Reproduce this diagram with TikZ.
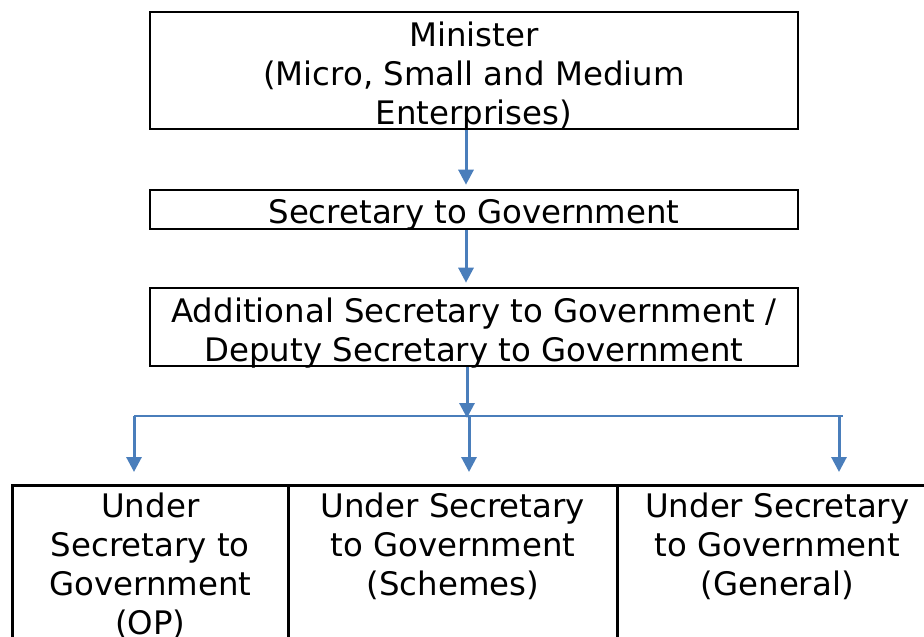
\documentclass[tikz,border=0pt]{standalone}
\usepackage{fontspec}
\setmainfont{DejaVu Sans}
\usetikzlibrary{positioning,calc,arrows.meta}

\tikzset{>={Triangle[length=15pt,width=15pt]}}
\definecolor{linkblue}{HTML}{4A7EBB}
\tikzstyle{post}=[draw=black,line width=2.6pt,inner sep=0pt]
\tikzstyle{label}=[align=center,inner sep=0pt,font=\fontsize{32.4}{39}\selectfont]
\tikzstyle{link}=[->,draw=linkblue,line width=3pt,shorten >=4pt]
\tikzstyle{bar}=[draw=linkblue,line width=2pt]

\begin{document}
\begin{tikzpicture}[x=1pt,y=-1pt]
  \useasboundingbox (0,0) rectangle (924,637);

  % top of the chain
  \node[post,minimum width=648pt,minimum height=117pt] (minister) at (474,70.5) {};
  \node[post,minimum width=648pt,minimum height=39pt] (secy) at (474,209.5) {};
  \node[post,minimum width=648pt,minimum height=78pt] (addl) at (474,327) {};
  \node[label] (ministertxt) at ([yshift=-6pt]minister.center)
    {Minister\\(Micro, Small and Medium\\Enterprises)};
  \node[label] (secytxt) at ([yshift=-5pt]secy.center) {Secretary to Government};
  \node[label] (addltxt) at ([yshift=-6pt]addl.center)
    {Additional Secretary to Government /\\Deputy Secretary to Government};

  % the three under secretaries (cut off at the foot)
  \node[post,minimum width=276pt,minimum height=200pt,anchor=north west] (usop) at (11,484) {};
  \node[post,minimum width=329pt,minimum height=200pt,anchor=north west] (ussch) at (287,484) {};
  \node[post,minimum width=320pt,minimum height=200pt,anchor=north west] (usgen) at (616,484) {};
  \node[label,anchor=north] (usoptxt) at ([yshift=-9pt]usop.north)
    {Under\\Secretary to\\Government\\(OP)};
  \node[label,anchor=north] (usschtxt) at ([yshift=-9pt]ussch.north)
    {Under Secretary\\to Government\\(Schemes)};
  \node[label,anchor=north] (usgentxt) at ([yshift=-9pt]usgen.north)
    {Under Secretary\\to Government\\(General)};

  % connectors
  \draw[link] ([xshift=-8pt]minister.south) -- ([xshift=-8pt]secy.north);
  \draw[link] ([xshift=-8pt]secy.south) -- ([xshift=-8pt]addl.north);
  \coordinate (split) at (467,418);
  \coordinate (barL) at (134,416);
  \coordinate (barM) at (469,416);
  \coordinate (barR) at (839,416);
  \draw[bar] (barL) -- (843,416);
  \draw[link,shorten >=0pt] ([xshift=-7pt]addl.south) -- (split);
  \draw[link,shorten >=12pt] (barL) -- (barL |- usop.north);
  \draw[link,shorten >=12pt] (barM) -- (barM |- ussch.north);
  \draw[link,shorten >=12pt] (barR) -- (barR |- usgen.north);
\end{tikzpicture}
\end{document}
